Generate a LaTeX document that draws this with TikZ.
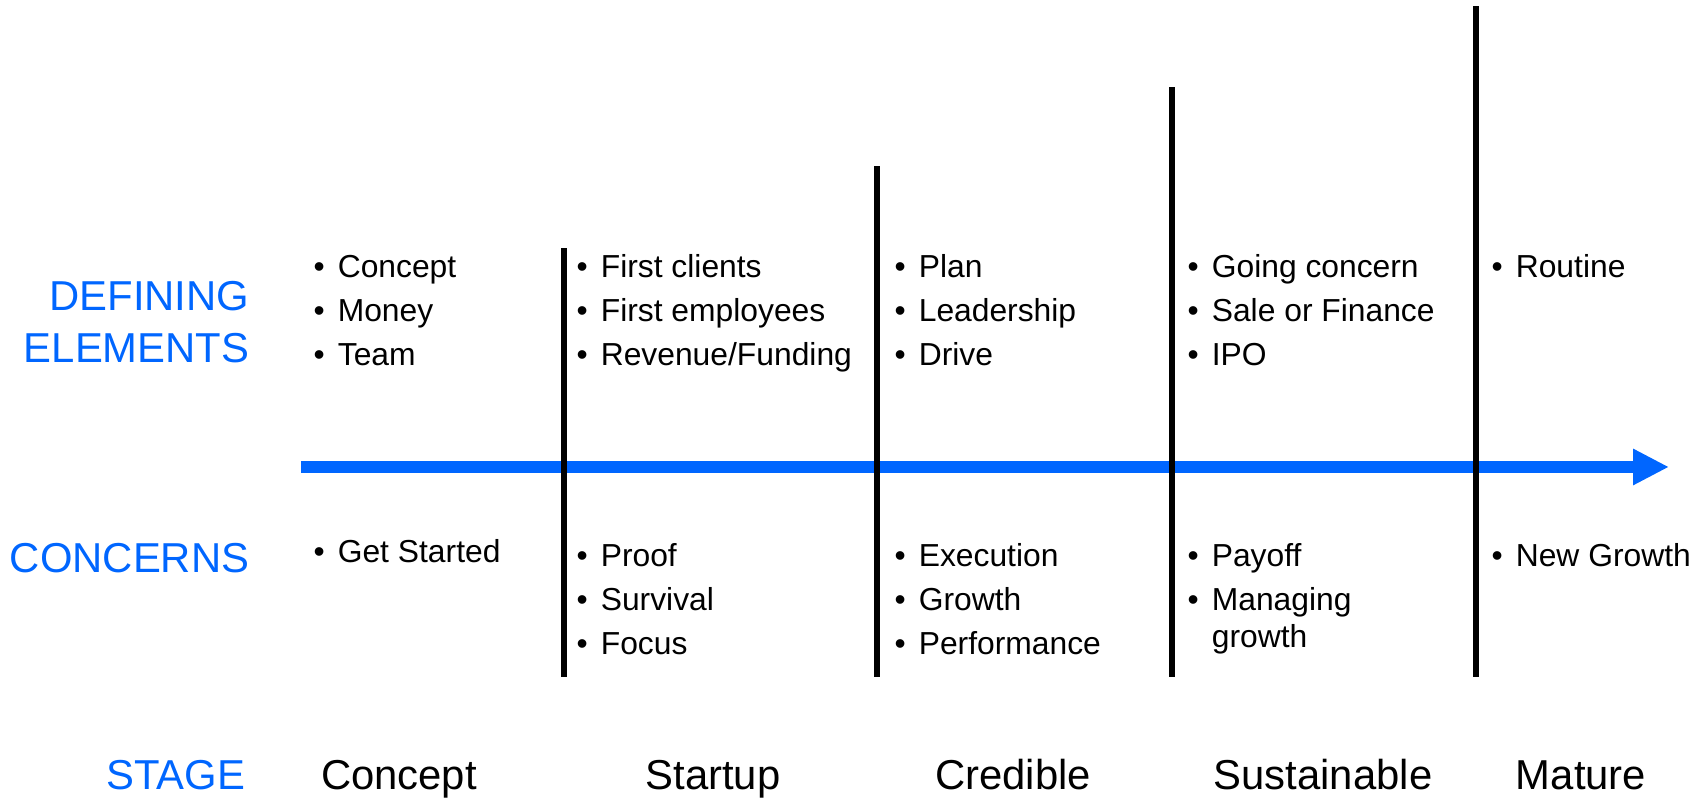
\documentclass[tikz,border=0pt]{standalone}
\usepackage{fontspec}
\setmainfont{Liberation Sans}
\usetikzlibrary{arrows.meta}
\definecolor{stgblue}{HTML}{0066FF}
\newcommand{\itemfont}{\fontsize{9.05pt}{12.5pt}\selectfont}
\newcommand{\headfont}{\fontsize{11.9pt}{14.8pt}\selectfont}
\newcommand{\blist}[1]{\begin{tabular}[t]{@{}l@{\hspace{3.7pt}}l@{}}#1\end{tabular}}

\begin{document}
\begin{tikzpicture}[
	bullets/.style={anchor=base west, inner sep=0, font=\itemfont},
	head/.style={anchor=base east, inner sep=0, font=\headfont, text=stgblue},
	stagename/.style={anchor=base, inner sep=0, font=\headfont},
	divider/.style={line width=1.7pt},
]
	\useasboundingbox (0, 0) rectangle (17.06, 7.98);

	% time line first, so the dividers cross over it
	\coordinate (start) at (3.01, 3.31);
	\coordinate (tip) at (16.69, 3.31);
	\draw[line width=3.4pt, stgblue, -{Triangle[length=0.36cm, width=0.34cm]}] (start) -- (tip);

	% stage dividers, each one taller than the last
	\draw[divider] (5.64, 1.21) -- (5.64, 5.50);
	\draw[divider] (8.77, 1.21) -- (8.77, 6.32);
	\draw[divider] (11.72, 1.21) -- (11.72, 7.11);
	\draw[divider] (14.76, 1.21) -- (14.76, 7.92);

	% row headings
	\node[head] (defn) at (2.50, 4.87) {DEFINING};
	\node[head] (elem) at (2.50, 4.35) {ELEMENTS};
	\node[head] (conc) at (2.50, 2.25) {CONCERNS};
	\node[head] (stage) at (2.46, 0.08) {STAGE};

	% defining elements
	\node[bullets] (d1) at (3.13, 5.20) {\blist{• & Concept\\ • & Money\\ • & Team}};
	\node[bullets] (d2) at (5.76, 5.20) {\blist{• & First clients\\ • & First employees\\ • & Revenue/Funding}};
	\node[bullets] (d3) at (8.94, 5.20) {\blist{• & Plan\\ • & Leadership\\ • & Drive}};
	\node[bullets] (d4) at (11.87, 5.20) {\blist{• & Going concern\\ • & Sale or Finance\\ • & IPO}};
	\node[bullets] (d5) at (14.91, 5.20) {\blist{• & Routine}};

	% concerns
	\node[bullets] (k1) at (3.13, 2.35) {\blist{• & Get Started}};
	\node[bullets] (k2) at (5.76, 2.31) {\blist{• & Proof\\ • & Survival\\ • & Focus}};
	\node[bullets] (k3) at (8.94, 2.31) {\blist{• & Execution\\ • & Growth\\ • & Performance}};
	\node[bullets] (k4) at (11.87, 2.31) {\blist{• & Payoff\\ • & \parbox[t]{2.5cm}{\fontsize{9.05pt}{10.5pt}\selectfont Managing\\growth}}};
	\node[bullets] (k5) at (14.91, 2.31) {\blist{• & New Growth}};

	% stage names
	\node[stagename] (s1) at (3.99, 0.08) {Concept};
	\node[stagename] (s2) at (7.13, 0.08) {Startup};
	\node[stagename] (s3) at (10.13, 0.08) {Credible};
	\node[stagename] (s4) at (13.23, 0.08) {Sustainable};
	\node[stagename] (s5) at (15.81, 0.08) {Mature};
\end{tikzpicture}
\end{document}
